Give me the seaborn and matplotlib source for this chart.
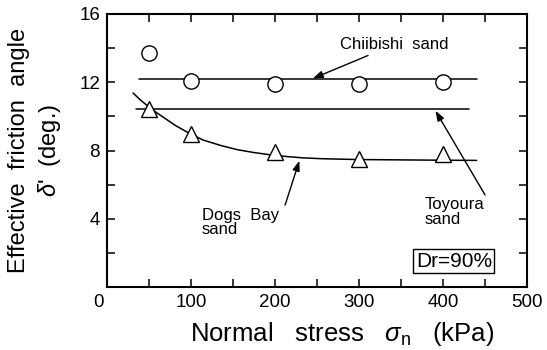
import matplotlib
matplotlib.use("Agg")
import matplotlib.pyplot as plt
import seaborn as sns
from matplotlib.ticker import MultipleLocator, FixedLocator
from matplotlib.transforms import ScaledTranslation

# ---- data ----
stress = [50, 100, 200, 300, 400]
chiibishi = [13.7, 12.07, 11.88, 11.88, 12.03]
dogs_bay = [10.46, 8.94, 7.94, 7.53, 7.77]

chiibishi_fit_x = [38, 440]
chiibishi_fit_y = [12.17, 12.17]
toyoura_fit_x = [35, 431]
toyoura_fit_y = [10.41, 10.41]
dogs_fit_x = [31, 40, 50, 59.5, 70, 82, 95, 114, 135, 155, 175, 194, 213, 233, 255, 280, 300, 350, 400, 440]
dogs_fit_y = [11.37, 10.95, 10.55, 10.2, 9.85, 9.45, 9.09, 8.62, 8.3, 8.05, 7.88, 7.75, 7.65, 7.57, 7.52, 7.49, 7.47, 7.45, 7.43, 7.42]

x_major = [0, 100, 200, 300, 400, 500]
y_major = [4, 8, 12, 16]

sns.set_theme(style="ticks")
plt.rcParams["font.family"] = ["Liberation Sans", "DejaVu Sans"]
plt.rcParams["mathtext.fontset"] = "custom"
plt.rcParams["mathtext.rm"] = "Liberation Sans"
plt.rcParams["mathtext.it"] = "Liberation Sans:italic"
plt.rcParams["text.color"] = "black"
plt.rcParams["axes.labelcolor"] = "black"
plt.rcParams["xtick.color"] = "black"
plt.rcParams["ytick.color"] = "black"

fig = plt.figure(figsize=(5.47, 3.5), dpi=100)
ax = fig.add_axes([107 / 547, 1 - 287 / 350, 420 / 547, 273 / 350])

lw = 1.1
sns.lineplot(x=chiibishi_fit_x, y=chiibishi_fit_y, ax=ax, color="black", lw=lw)
sns.lineplot(x=toyoura_fit_x, y=toyoura_fit_y, ax=ax, color="black", lw=lw)
sns.lineplot(x=dogs_fit_x, y=dogs_fit_y, ax=ax, color="black", lw=lw, sort=True)

ax.plot(stress, chiibishi, linestyle="none", marker="o", ms=11, mfc="white",
        mec="black", mew=1.0, zorder=4)
ax.plot(stress, dogs_bay, linestyle="none", marker="^", ms=11, mfc="white",
        mec="black", mew=1.0, zorder=4)

ax.set_xlim(0, 500)
ax.set_ylim(0, 16)
ax.xaxis.set_major_locator(FixedLocator(x_major))
ax.xaxis.set_minor_locator(MultipleLocator(50))
ax.yaxis.set_major_locator(FixedLocator(y_major))
ax.yaxis.set_minor_locator(MultipleLocator(2))
ax.tick_params(which="both", direction="in", length=5.5, width=1.1,
               top=True, right=True, labelsize=13.5, pad=5, colors="black")
for s in ax.spines.values():
    s.set_linewidth(1.5)
    s.set_color("black")

ax.set_xlabel(r"Normal   stress   $\sigma_{\rm n}$   (kPa)", fontsize=18.5)
ax.xaxis.set_label_coords(0.56, -0.12)
ax.set_ylabel("Effective  friction  angle\n" + r"$\delta$'  (deg.)", fontsize=17,
              linespacing=1.3)
ax.yaxis.set_label_coords(-0.105, 0.5)

arrow = dict(arrowstyle="-|>,head_length=0.5,head_width=0.18", color="black", lw=1.0,
             shrinkA=0, shrinkB=0)
ax.annotate("Chiibishi  sand", xy=(245, 12.22), xytext=(277, 14.2),
            fontsize=12, va="center", ha="left", arrowprops=arrow)
ax.annotate("", xy=(391, 10.33), xytext=(450, 5.4), arrowprops=arrow)
ax.text(378, 5.25, "Toyoura\nsand", fontsize=12, va="top", ha="left",
        linespacing=0.95)
ax.text(113, 4.65, "Dogs  Bay\nsand", fontsize=12, va="top", ha="left",
        linespacing=0.95)
ax.annotate("", xy=(229, 7.4), xytext=(212, 4.8), arrowprops=arrow)

ax.text(413, 1.5, "Dr=90%", fontsize=15, ha="center", va="center",
        bbox=dict(boxstyle="square,pad=0.12", fc="white", ec="black", lw=1.0))

# shift the corner "0" label slightly left, as in the reference
fig.canvas.draw()
zero_lab = ax.xaxis.get_major_ticks()[0].label1
zero_lab.set_transform(zero_lab.get_transform() +
                       ScaledTranslation(-0.09, 0, fig.dpi_scale_trans))

fig.savefig("out.png", dpi=100)
